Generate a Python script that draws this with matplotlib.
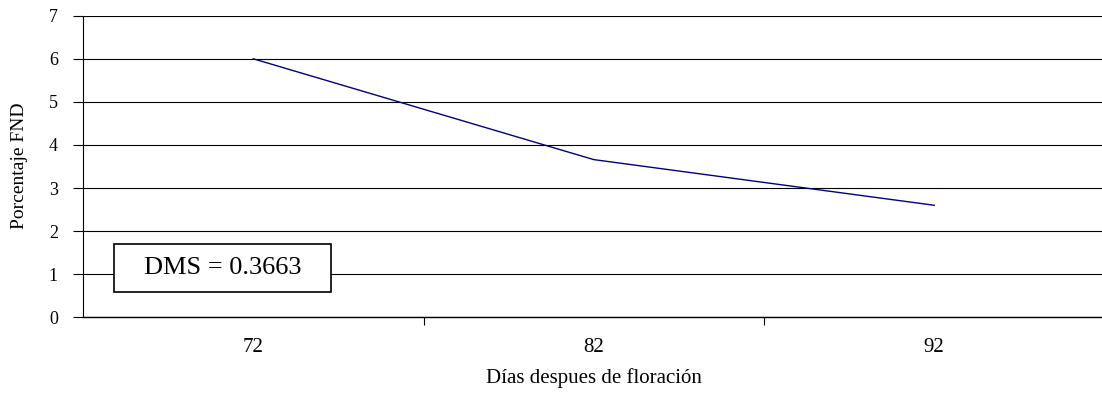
import matplotlib
matplotlib.use("Agg")
import matplotlib.pyplot as plt
from matplotlib.patches import Rectangle

categories = ["72", "82", "92"]
values = [6.0, 3.66, 2.6]
yticks = [0, 1, 2, 3, 4, 5, 6, 7]

W, H = 1102, 398
fig = plt.figure(figsize=(W / 100, H / 100), dpi=100)
plt.rcParams['font.family'] = ['Liberation Serif', 'DejaVu Serif']

left, right, top, bottom = 83, 1104.5, 15.7, 317.3
ax = fig.add_axes([left / W, 1 - bottom / H, (right - left) / W, (bottom - top) / H])
x = list(range(len(categories)))
ax.plot(x, values, color='#000080', lw=1.0)
ax.set_xlim(-0.5, len(categories) - 0.5)
ax.set_ylim(0, 7)
ax.set_yticks(yticks)
ax.set_yticklabels([str(t) for t in yticks], fontsize=13)
ax.set_xticks(x)
ax.set_xticklabels(categories, fontsize=15)
ax.set_xticks([i + 0.5 for i in x[:-1]], minor=True)
ax.tick_params(axis='x', which='major', length=0, pad=15)
ax.tick_params(axis='x', which='minor', length=6, direction='out', width=0.8)
ax.tick_params(axis='y', length=7, direction='out', width=0.8, pad=11)
for s in ['top', 'right']:
    ax.spines[s].set_visible(False)
ax.spines['left'].set_linewidth(0.8)
ax.spines['bottom'].set_linewidth(1.0)
ax.grid(axis='y', color='black', lw=0.8)
ax.set_axisbelow(True)

ax.set_xlabel('Días despues de floración', fontsize=15, labelpad=8)
fig.text(20 / W, 1 - 166 / H, 'Porcentaje FND', rotation=90, fontsize=14,
         ha='center', va='center')

# DMS box
bx0, bx1, by0, by1 = 114, 331, 244, 292
fig.patches.append(Rectangle((bx0 / W, 1 - by1 / H), (bx1 - bx0) / W, (by1 - by0) / H,
                             transform=fig.transFigure, facecolor='white',
                             edgecolor='black', lw=1.2, zorder=5))
fig.text((bx0 + bx1) / 2 / W, 1 - 268 / H, 'DMS = 0.3663', fontsize=19,
         ha='center', va='center', zorder=6)

fig.savefig('out.png', dpi=100)
